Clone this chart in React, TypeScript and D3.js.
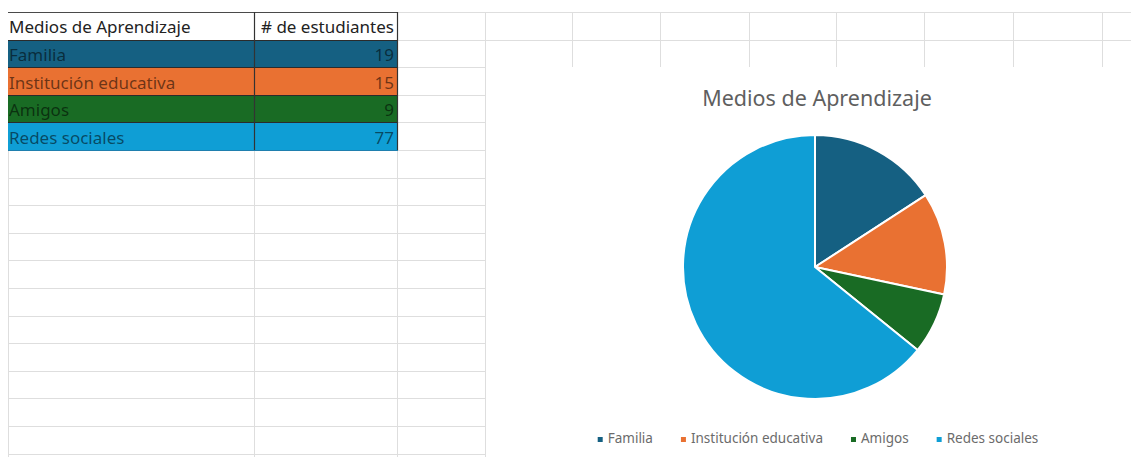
import * as d3 from "d3";
import { useEffect, useRef } from "react";

const width = 1131;
const height = 457;

const headers = ["Medios de Aprendizaje", "# de estudiantes"];
const categories = ["Familia", "Institución educativa", "Amigos", "Redes sociales"];
const students = [19, 15, 9, 77];
const colors = ["#156082", "#E97132", "#196B24", "#0F9ED5"];
const chartTitle = "Medios de Aprendizaje";

// sheet grid
const colEdges = [8, 254, 397, 485, 572, 660, 749, 836, 924, 1013, 1102, 1190];
const rowTop = 12;
const rowHeight = 27.6;
const rowCount = 16;
const chartBox = { x: 486, y: 67 };
const pieCenter = { x: 815, y: 267 };
const pieRadius = 132;
const font = "'Noto Sans', sans-serif";

export default function App() {
  const svgRef = useRef<SVGSVGElement | null>(null);

  useEffect(() => {
    if (!svgRef.current) return;
    draw(svgRef.current);
  }, []);

  return (
    <div style={{ position: "absolute", left: 0, top: 0, width, height, background: "#fff" }}>
      <svg ref={svgRef} width={width} height={height} style={{ display: "block" }} />
    </div>
  );
}

function draw(svgElement: SVGSVGElement) {
  const svg = d3.select(svgElement);
  svg.selectAll("*").remove();

  const rowY = d3
    .scaleLinear()
    .domain([0, rowCount])
    .range([rowTop, rowTop + rowCount * rowHeight]);

  const grid = svg.append("g").attr("class", "sheet-grid");

  grid
    .selectAll("line.h")
    .data(d3.range(rowCount + 1))
    .join("line")
    .attr("class", "h")
    .attr("x1", colEdges[0])
    .attr("x2", width)
    .attr("y1", (i) => Math.round(rowY(i)) + 0.5)
    .attr("y2", (i) => Math.round(rowY(i)) + 0.5)
    .attr("stroke", "#dedede");

  grid
    .selectAll("line.v")
    .data(colEdges)
    .join("line")
    .attr("class", "v")
    .attr("x1", (x) => x + 0.5)
    .attr("x2", (x) => x + 0.5)
    .attr("y1", rowTop)
    .attr("y2", height)
    .attr("stroke", "#dedede");

  // table body
  const table = svg.append("g").attr("class", "table");
  const colA = colEdges[0];
  const colB = colEdges[1];
  const colC = colEdges[2];

  table
    .selectAll("rect.row")
    .data(categories)
    .join("rect")
    .attr("class", "row")
    .attr("x", colA)
    .attr("y", (_, i) => Math.round(rowY(i + 1)))
    .attr("width", colC - colA)
    .attr("height", (_, i) => Math.round(rowY(i + 2)) - Math.round(rowY(i + 1)))
    .attr("fill", (_, i) => colors[i]);

  table
    .append("rect")
    .attr("x", colA)
    .attr("y", Math.round(rowY(0)))
    .attr("width", colC - colA)
    .attr("height", Math.round(rowY(1)) - Math.round(rowY(0)))
    .attr("fill", "#ffffff");

  // dark borders
  const borderYs = d3.range(0, categories.length + 1).map((i) => Math.round(rowY(i)) + 0.5);
  table
    .selectAll("line.border-h")
    .data(borderYs)
    .join("line")
    .attr("class", "border-h")
    .attr("x1", colA)
    .attr("x2", colC + 1)
    .attr("y1", (y) => y)
    .attr("y2", (y) => y)
    .attr("stroke", (_, i) => (i === 0 ? "#4a4a4a" : "#2b2b2b"))
    .attr("stroke-width", 1.2);

  table
    .selectAll("line.border-v")
    .data([colB, colC])
    .join("line")
    .attr("class", "border-v")
    .attr("x1", (x) => x + 0.5)
    .attr("x2", (x) => x + 0.5)
    .attr("y1", Math.round(rowY(0)))
    .attr("y2", Math.round(rowY(categories.length + 1)))
    .attr("stroke", "#333333")
    .attr("stroke-width", 1.2);

  table
    .append("line")
    .attr("x1", colA)
    .attr("x2", colC + 1)
    .attr("y1", Math.round(rowY(categories.length + 1)) + 0.5)
    .attr("y2", Math.round(rowY(categories.length + 1)) + 0.5)
    .attr("stroke", "#1f7fae")
    .attr("stroke-width", 1.2);

  const cellSize = "17px";
  const headerBaseline = Math.round(rowY(1)) - 7;
  table
    .append("text")
    .attr("x", colA + 1)
    .attr("y", headerBaseline)
    .attr("fill", "#222")
    .style("font-family", font)
    .style("font-size", cellSize)
    .text(headers[0]);

  table
    .append("text")
    .attr("x", colC - 3)
    .attr("y", headerBaseline)
    .attr("text-anchor", "end")
    .attr("fill", "#222")
    .style("font-family", font)
    .style("font-size", cellSize)
    .text(headers[1]);

  table
    .selectAll("text.label")
    .data(categories)
    .join("text")
    .attr("class", "label")
    .attr("x", colA + 1)
    .attr("y", (_, i) => Math.round(rowY(i + 2)) - 6)
    .attr("fill", "#000")
    .attr("fill-opacity", 0.55)
    .style("font-family", font)
    .style("font-size", cellSize)
    .text((d) => d);

  table
    .selectAll("text.value")
    .data(students)
    .join("text")
    .attr("class", "value")
    .attr("x", colC - 3)
    .attr("y", (_, i) => Math.round(rowY(i + 2)) - 6)
    .attr("text-anchor", "end")
    .attr("fill", "#000")
    .attr("fill-opacity", 0.55)
    .style("font-family", font)
    .style("font-size", cellSize)
    .text((d) => d);

  // chart area
  const chart = svg.append("g").attr("class", "chart");
  chart
    .append("rect")
    .attr("x", chartBox.x)
    .attr("y", chartBox.y)
    .attr("width", width - chartBox.x)
    .attr("height", height - chartBox.y)
    .attr("fill", "#ffffff");

  chart
    .append("text")
    .attr("x", pieCenter.x + 2)
    .attr("y", 106)
    .attr("text-anchor", "middle")
    .attr("fill", "#5f5f5f")
    .style("font-family", font)
    .style("font-size", "21.5px")
    .text(chartTitle);

  const pie = d3
    .pie<number>()
    .sort(null)
    .value((d) => d);
  const arc = d3
    .arc<d3.PieArcDatum<number>>()
    .innerRadius(0)
    .outerRadius(pieRadius);

  chart
    .append("g")
    .attr("transform", `translate(${pieCenter.x}, ${pieCenter.y})`)
    .selectAll("path")
    .data(pie(students))
    .join("path")
    .attr("d", arc)
    .attr("fill", (_, i) => colors[i])
    .attr("stroke", "#ffffff")
    .attr("stroke-width", 2)
    .attr("stroke-linejoin", "round");

  // legend
  const legend = chart.append("g").attr("class", "legend");
  const legendY = 440;
  const items = legend
    .selectAll("g")
    .data(categories)
    .join("g");

  items
    .append("rect")
    .attr("x", 0)
    .attr("y", -6)
    .attr("width", 5)
    .attr("height", 5)
    .attr("fill", (_, i) => colors[i]);

  items
    .append("text")
    .attr("x", 10)
    .attr("y", 0)
    .attr("fill", "#6b6b6b")
    .style("font-family", font)
    .style("font-size", "13.5px")
    .text((d) => d);

  const widths: number[] = [];
  items.each(function () {
    const t = d3.select(this).select<SVGTextElement>("text").node();
    widths.push(10 + (t ? t.getComputedTextLength() : 0));
  });
  const gap = 28;
  const total = d3.sum(widths) + gap * (widths.length - 1);
  let cursor = pieCenter.x + 3 - total / 2;
  items.attr("transform", (_, i) => {
    const x = cursor;
    cursor += widths[i] + gap;
    return `translate(${x}, ${legendY + 3})`;
  });
}
